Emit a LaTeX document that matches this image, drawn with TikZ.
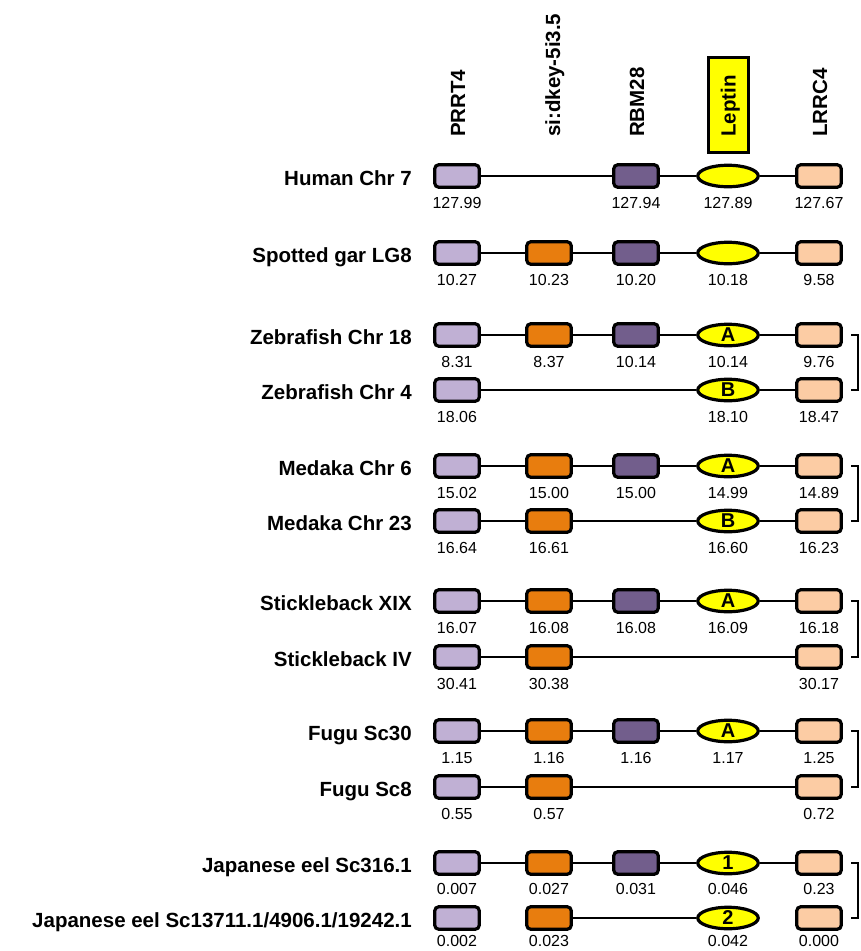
\documentclass[tikz,border=0pt]{standalone}
\usepackage{fontspec}
\setmainfont{Liberation Sans}
\usetikzlibrary{shapes.geometric}
\definecolor{cPR}{RGB}{192,176,212}
\definecolor{cSI}{RGB}{232,125,14}
\definecolor{cRB}{RGB}{114,94,140}
\definecolor{cLR}{RGB}{252,204,164}
\definecolor{cYE}{RGB}{255,255,0}
\tikzset{
  genebox/.style={draw=black, line width=3.2pt, rounded corners=4pt, minimum width=44.5pt, minimum height=22.5pt, inner sep=0pt},
  gP/.style={genebox, fill=cPR},
  gS/.style={genebox, fill=cSI},
  gR/.style={genebox, fill=cRB},
  gC/.style={genebox, fill=cLR},
  gL/.style={ellipse, draw=black, line width=3.2pt, fill=cYE, minimum width=60.5pt, minimum height=21.5pt, inner sep=0pt, font=\bfseries\fontsize{20}{20}\selectfont},
  num/.style={font=\fontsize{16}{16}\selectfont, inner sep=0pt, anchor=base},
  rowlab/.style={font=\bfseries\fontsize{20.5}{20.5}\selectfont, inner sep=0pt, anchor=base east},
  collab/.style={font=\bfseries\fontsize{20.5}{20.5}\selectfont, inner sep=0pt, anchor=base west, rotate=90},
  link/.style={line width=2.8pt},
  brk/.style={line width=2.6pt},
}
\newcommand\mkg[7]{% name, style, x, y, text, number, number offset
  \node[#2] (#1) at (#3,#4) {#5};
  \node[num] (#1n) at (#3,#4+#7) {#6};}
\begin{document}
\begin{tikzpicture}[x=1pt,y=-1pt]
\useasboundingbox (0,0) rectangle (860,951);
% column headers
\node[draw=black, line width=3.2pt, fill=cYE, minimum width=40pt, minimum height=95pt, inner sep=0pt] (lepbox) at (728.5,105) {};
\node[collab] (hP) at (465,137) {PRRT4};
\node[collab] (hS) at (560,137) {si:dkey-5i3.5};
\node[collab] (hR) at (644,137) {RBM28};
\node[collab] (hL) at (735.5,137) {Leptin};
\node[collab] (hC) at (827,137) {LRRC4};
% Human
\node[rowlab] (l1) at (412,176+9.5) {Human Chr 7};
\mkg{a1}{gP}{457}{176}{}{127.99}{32}
\mkg{a3}{gR}{636}{176}{}{127.94}{32}
\mkg{a4}{gL}{728}{176}{}{127.89}{32}
\mkg{a5}{gC}{819}{176}{}{127.67}{32}
\draw[link] (a1) -- (a3) (a3) -- (a4) (a4) -- (a5);
% Spotted gar
\node[rowlab] (l2) at (412,253+9.5) {Spotted gar LG8};
\mkg{b1}{gP}{457}{253}{}{10.27}{32}
\mkg{b2}{gS}{549}{253}{}{10.23}{32}
\mkg{b3}{gR}{636}{253}{}{10.20}{32}
\mkg{b4}{gL}{728}{253}{}{10.18}{32}
\mkg{b5}{gC}{819}{253}{}{9.58}{32}
\draw[link] (b1) -- (b2) (b2) -- (b3) (b3) -- (b4) (b4) -- (b5);
% Zebrafish Chr 18
\node[rowlab] (l3) at (412,335+9.5) {Zebrafish Chr 18};
\mkg{c1}{gP}{457}{335}{}{8.31}{32}
\mkg{c2}{gS}{549}{335}{}{8.37}{32}
\mkg{c3}{gR}{636}{335}{}{10.14}{32}
\mkg{c4}{gL}{728}{335}{A}{10.14}{32}
\mkg{c5}{gC}{819}{335}{}{9.76}{32}
\draw[link] (c1) -- (c2) (c2) -- (c3) (c3) -- (c4) (c4) -- (c5);
% Zebrafish Chr 4
\node[rowlab] (l4) at (412,390+9.5) {Zebrafish Chr 4};
\mkg{d1}{gP}{457}{390}{}{18.06}{32}
\mkg{d4}{gL}{728}{390}{B}{18.10}{32}
\mkg{d5}{gC}{819}{390}{}{18.47}{32}
\draw[link] (d1) -- (d4) (d4) -- (d5);
% Medaka Chr 6
\node[rowlab] (l5) at (412,466+9.5) {Medaka Chr 6};
\mkg{e1}{gP}{457}{466}{}{15.02}{32}
\mkg{e2}{gS}{549}{466}{}{15.00}{32}
\mkg{e3}{gR}{636}{466}{}{15.00}{32}
\mkg{e4}{gL}{728}{466}{A}{14.99}{32}
\mkg{e5}{gC}{819}{466}{}{14.89}{32}
\draw[link] (e1) -- (e2) (e2) -- (e3) (e3) -- (e4) (e4) -- (e5);
% Medaka Chr 23
\node[rowlab] (l6) at (412,521+9.5) {Medaka Chr 23};
\mkg{f1}{gP}{457}{521}{}{16.64}{32}
\mkg{f2}{gS}{549}{521}{}{16.61}{32}
\mkg{f4}{gL}{728}{521}{B}{16.60}{32}
\mkg{f5}{gC}{819}{521}{}{16.23}{32}
\draw[link] (f1) -- (f2) (f2) -- (f4) (f4) -- (f5);
% Stickleback XIX
\node[rowlab] (l7) at (412,601+9.5) {Stickleback XIX};
\mkg{g1}{gP}{457}{601}{}{16.07}{32}
\mkg{g2}{gS}{549}{601}{}{16.08}{32}
\mkg{g3}{gR}{636}{601}{}{16.08}{32}
\mkg{g4}{gL}{728}{601}{A}{16.09}{32}
\mkg{g5}{gC}{819}{601}{}{16.18}{32}
\draw[link] (g1) -- (g2) (g2) -- (g3) (g3) -- (g4) (g4) -- (g5);
% Stickleback IV
\node[rowlab] (l8) at (412,657+9.5) {Stickleback IV};
\mkg{h1}{gP}{457}{657}{}{30.41}{32}
\mkg{h2}{gS}{549}{657}{}{30.38}{32}
\mkg{h5}{gC}{819}{657}{}{30.17}{32}
\draw[link] (h1) -- (h2) (h2) -- (h5);
% Fugu Sc30
\node[rowlab] (l9) at (412,731+9.5) {Fugu Sc30};
\mkg{i1}{gP}{457}{731}{}{1.15}{32}
\mkg{i2}{gS}{549}{731}{}{1.16}{32}
\mkg{i3}{gR}{636}{731}{}{1.16}{32}
\mkg{i4}{gL}{728}{731}{A}{1.17}{32}
\mkg{i5}{gC}{819}{731}{}{1.25}{32}
\draw[link] (i1) -- (i2) (i2) -- (i3) (i3) -- (i4) (i4) -- (i5);
% Fugu Sc8
\node[rowlab] (l10) at (412,787+9.5) {Fugu Sc8};
\mkg{j1}{gP}{457}{787}{}{0.55}{32}
\mkg{j2}{gS}{549}{787}{}{0.57}{32}
\mkg{j5}{gC}{819}{787}{}{0.72}{32}
\draw[link] (j1) -- (j2) (j2) -- (j5);
% Japanese eel Sc316.1
\node[rowlab] (l11) at (412,863+9.5) {Japanese eel Sc316.1};
\mkg{k1}{gP}{457}{863}{}{0.007}{31}
\mkg{k2}{gS}{549}{863}{}{0.027}{31}
\mkg{k3}{gR}{636}{863}{}{0.031}{31}
\mkg{k4}{gL}{728}{863}{1}{0.046}{31}
\mkg{k5}{gC}{819}{863}{}{0.23}{31}
\draw[link] (k1) -- (k2) (k2) -- (k3) (k3) -- (k4) (k4) -- (k5);
% Japanese eel Sc13711.1/4906.1/19242.1
\node[rowlab] (l12) at (412,918+9.5) {Japanese eel Sc13711.1/4906.1/19242.1};
\mkg{m1}{gP}{457}{918}{}{0.002}{28.5}
\mkg{m2}{gS}{549}{918}{}{0.023}{28.5}
\mkg{m4}{gL}{728}{918}{2}{0.042}{28.5}
\mkg{m5}{gC}{819}{918}{}{0.000}{28.5}
\draw[link] (m2) -- (m4);
% brackets
\foreach \ya/\yb [count=\n] in {335/390, 466/521, 601/657, 731/787, 863/918} {
  \coordinate (bt\n) at (851,\ya);
  \coordinate (bb\n) at (851,\yb);
  \draw[brk] (bt\n) -- ++(7,0) |- (bb\n);
}
\end{tikzpicture}
\end{document}
